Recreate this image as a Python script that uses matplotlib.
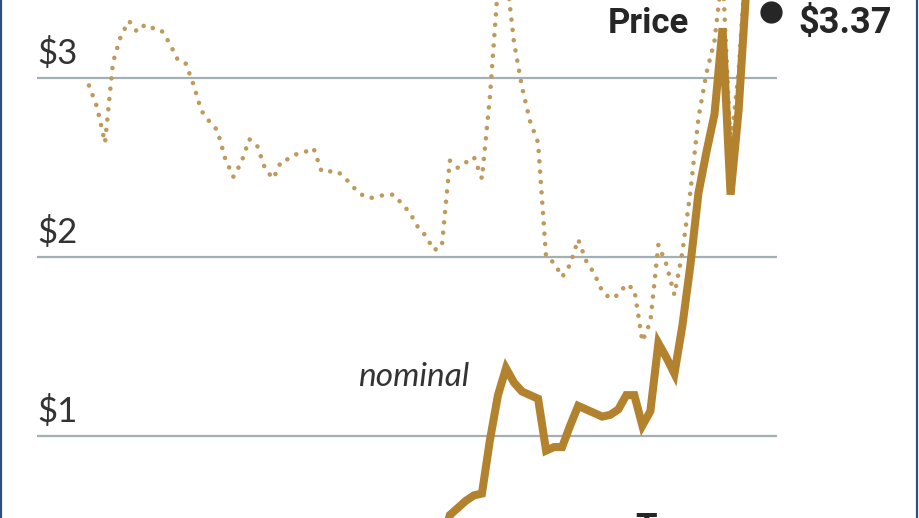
import matplotlib
matplotlib.use('Agg')
import matplotlib.pyplot as plt
from matplotlib.lines import Line2D

# Annual gas price, inflation-adjusted (dotted) and nominal (solid), dollars per gallon
real_years = list(range(1929, 2014))
real_price = [
    2.96, 2.84, 2.64, 3.09, 3.24, 3.32, 3.26, 3.30, 3.28, 3.27,   # 1929-1938
    3.20, 3.11, 3.09, 2.97, 2.82, 2.76, 2.71, 2.55, 2.45, 2.53,   # 1939-1948
    2.66, 2.62, 2.49, 2.44, 2.54, 2.55, 2.58, 2.59, 2.61, 2.48,   # 1949-1958
    2.48, 2.48, 2.44, 2.39, 2.35, 2.33, 2.34, 2.35, 2.35, 2.30,   # 1959-1968
    2.25, 2.17, 2.12, 2.04, 2.06, 2.54, 2.50, 2.53, 2.56, 2.44,   # 1969-1978
    2.90, 3.52, 3.60, 3.20, 2.95, 2.76, 2.64, 2.00, 1.97, 1.89,   # 1979-1988
    1.96, 2.10, 1.98, 1.91, 1.81, 1.77, 1.79, 1.85, 1.82, 1.53,   # 1989-1998
    1.64, 2.07, 1.96, 1.79, 2.03, 2.37, 2.78, 3.03, 3.21, 3.60,   # 1999-2008
    2.62, 3.03, 3.72, 3.75, 3.59,                                 # 2009-2013
]

nominal_years = list(range(1973, 2014))
nominal_price = [
    0.40, 0.56, 0.60, 0.64, 0.67, 0.68, 0.98, 1.23, 1.38, 1.30,   # 1973-1982
    1.25, 1.23, 1.21, 0.92, 0.94, 0.94, 1.06, 1.17, 1.15, 1.13,   # 1983-1992
    1.11, 1.12, 1.15, 1.23, 1.23, 1.06, 1.14, 1.52, 1.44, 1.35,   # 1993-2002
    1.62, 1.96, 2.36, 2.59, 2.80, 3.28, 2.35, 2.82, 3.53, 3.64,   # 2003-2012
    3.53,                                                         # 2013
]

latest_year = 2014
latest_price = 3.37

grid_values = [1, 2, 3]
grid_labels = ['$1', '$2', '$3']

# pixel layout of the crop (920 x 518)
W, H = 920, 518
PX_PER_YEAR = 8.02
YEAR_REF, X_REF = 1931, 105
PX_PER_DOLLAR = 179.0
Y_OF_3 = 78.3

def year_at(px):
    return YEAR_REF + (px - X_REF) / PX_PER_YEAR

def price_at(py):
    return 3 - (py - Y_OF_3) / PX_PER_DOLLAR

GOLD = '#B3822F'
DOTS = '#BE9A5C'
GRID = '#A2AFB5'
INK = '#262626'

fig = plt.figure(figsize=(W / 100, H / 100), dpi=100)
fig.patch.set_facecolor('white')
ax = fig.add_axes([0, 0, 1, 1])
ax.set_xlim(year_at(0), year_at(W))
ax.set_ylim(price_at(H), price_at(0))
ax.axis('off')

# horizontal reference lines
ax.hlines(grid_values, year_at(37), year_at(777), colors=GRID, linewidth=1.6, zorder=1)
for v, lab in zip(grid_values, grid_labels):
    ax.annotate(lab, xy=(year_at(37), v), xytext=(0, 10), textcoords='offset points',
                ha='left', va='baseline', fontsize=25, family='Lato', color='#333333')

# inflation-adjusted price, dotted
ax.plot(real_years, real_price, color=DOTS, linewidth=3.3,
        linestyle=(0, (0.01, 2.25)), dash_capstyle='round', zorder=2)

# nominal price, solid
ax.plot(nominal_years, nominal_price, color=GOLD, linewidth=5.8,
        solid_joinstyle='miter', solid_capstyle='butt', zorder=3)

# latest price marker
ax.plot([latest_year], [latest_price], 'o', color=INK, markersize=15, zorder=4)

fig.text(608 / W, 1 - 33 / H, 'Price', fontsize=25, fontweight='bold',
         family='Roboto', color=INK, ha='left', va='baseline')
fig.text(798 / W, 1 - 33 / H, f'${latest_price:.2f}', fontsize=26, fontweight='bold',
         family='Roboto', color=INK, ha='left', va='baseline')
fig.text(358 / W, 1 - 386 / H, 'nominal', fontsize=24, style='italic',
         family='Lato', color='#333333', ha='left', va='baseline')
fig.text(635 / W, 1 - 538 / H, 'Taxes', fontsize=25, fontweight='bold',
         family='Roboto', color=INK, ha='left', va='baseline')

# thin blue frame on left and right
for xp in (1.5, 917.5):
    fig.add_artist(Line2D([xp / W, xp / W], [0, 1], color='#2E4E80', linewidth=1.6))

fig.savefig('out.png', dpi=100, facecolor='white')
